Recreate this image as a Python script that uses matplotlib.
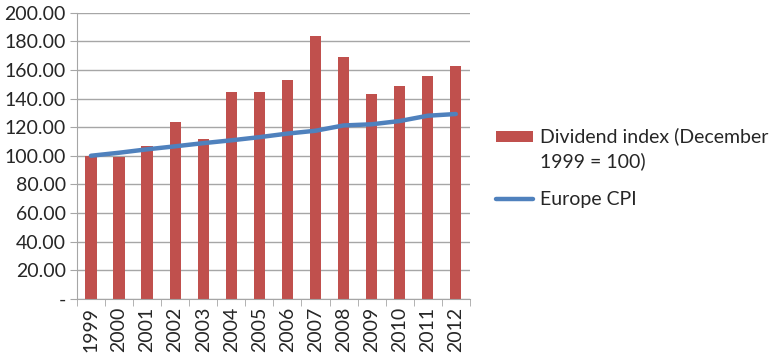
import matplotlib.pyplot as plt
import numpy as np
from matplotlib.legend_handler import HandlerPatch
from matplotlib.patches import Rectangle

years = ["1999", "2000", "2001", "2002", "2003", "2004", "2005",
         "2006", "2007", "2008", "2009", "2010", "2011", "2012"]
dividend = [100.0, 99.1, 106.8, 123.6, 111.4, 144.5, 144.7,
            153.2, 183.7, 169.4, 143.5, 149.1, 156.0, 162.5]
cpi = [100.0, 102.1, 104.5, 106.6, 108.8, 110.8, 113.0,
       115.5, 117.5, 121.2, 122.0, 124.3, 128.0, 129.2]
yticks = [0, 20, 40, 60, 80, 100, 120, 140, 160, 180, 200]
series_labels = ["Dividend index (December\n1999 = 100)", "Europe CPI"]

BAR_COLOR = "#C0504D"
LINE_COLOR = "#4F81BD"
GRID_COLOR = "#A6A6A6"
TEXT_COLOR = "#262626"
FS = 14

plt.rcParams["font.family"] = ["Lato", "DejaVu Sans"]

fig = plt.figure(figsize=(7.69, 3.56), dpi=100)
ax = fig.add_axes([0.100, 0.161, 0.511, 0.803])

x = np.arange(len(years))
bars = ax.bar(x, dividend, width=0.4, color=BAR_COLOR, zorder=2)
line, = ax.plot(x, cpi, color=LINE_COLOR, linewidth=3.2,
                solid_capstyle="round", zorder=3)

ax.set_xlim(-0.5, len(years) - 0.5)
ax.set_ylim(0, 200)
ax.set_yticks(yticks)
ax.set_yticklabels(["-" if v == 0 else f"{v:.2f}" for v in yticks],
                   fontsize=FS, color=TEXT_COLOR)
ax.set_xticks(x)
ax.set_xticklabels(years, rotation=90, fontsize=FS, color=TEXT_COLOR)
ax.set_xticks(np.arange(-0.5, len(years)), minor=True)
ax.tick_params(axis="x", which="major", length=0, pad=6)
ax.tick_params(axis="x", which="minor", length=5, color=GRID_COLOR)
ax.tick_params(axis="y", length=5, color=GRID_COLOR, pad=3)

ax.yaxis.grid(True, color=GRID_COLOR, linewidth=1, zorder=0)
ax.set_axisbelow(True)
for s in ["top", "right"]:
    ax.spines[s].set_visible(False)
for s in ["left", "bottom"]:
    ax.spines[s].set_color(GRID_COLOR)


# bar swatch sits level with the first line of the two-line label
def top_line_patch(legend, orig_handle, xdescent, ydescent, width, height, fontsize):
    return Rectangle((-xdescent, -ydescent + 9), width, height)


leg = ax.legend(handles=[bars[0], line], labels=series_labels, loc="upper left",
                bbox_to_anchor=(0.622, 0.692),
                bbox_transform=fig.transFigure, frameon=False,
                handlelength=1.9, handleheight=0.52, handletextpad=0.36,
                labelspacing=1.05, labelcolor=TEXT_COLOR,
                prop={"family": ["Lato", "DejaVu Sans"], "size": FS},
                handler_map={bars[0]: HandlerPatch(patch_func=top_line_patch)})
for t in leg.get_texts():
    t.set_linespacing(1.5)

fig.savefig("out.png", dpi=100)
